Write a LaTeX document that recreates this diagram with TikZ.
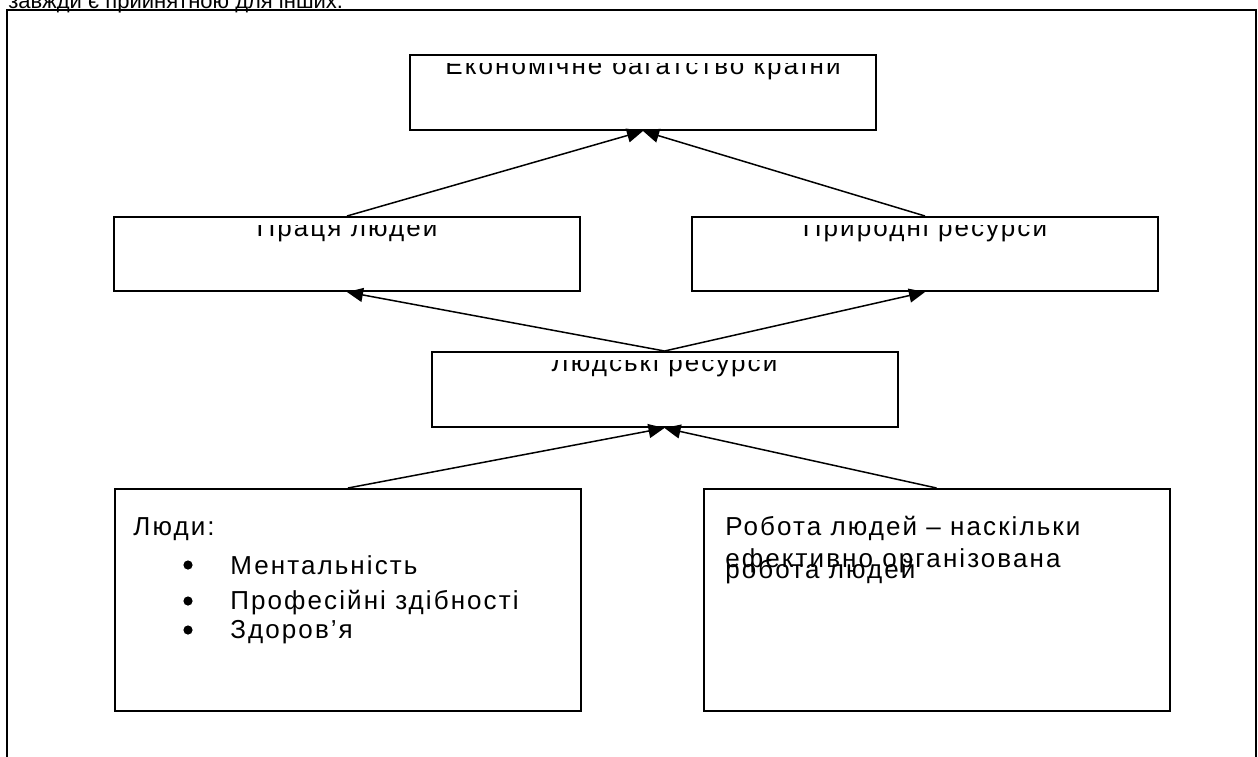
\documentclass[tikz,border=0pt]{standalone}
\usepackage{fontspec}
\setmainfont{Liberation Sans}
\newfontfamily\boxfont[LetterSpace=8]{Liberation Sans}
\usetikzlibrary{arrows.meta}

\begin{document}
\begin{tikzpicture}[x=0.5pt, y=-0.5pt,
    font=\boxfont\fontsize{13}{15}\selectfont,
    box/.style={draw, line width=1pt, inner sep=0pt, minimum width=233pt},
    link/.style={line width=0.75pt, -{Triangle[length=8pt, width=7pt]}},
    txt/.style={anchor=base, inner sep=0pt},
    item/.style={anchor=base west, inner sep=0pt},
    dot/.style={circle, fill, inner sep=0pt, minimum size=4.6pt}]
    \useasboundingbox (0,0) rectangle (1258,756);
    \draw[line width=0.75pt] (7,10) rectangle (1256,790);
    \node[item, font=\rmfamily\fontsize{11}{13}\selectfont] (intro) at (8,8) {завжди є прийнятною для інших.};

    \node[box, minimum height=37.5pt] (econ) at (643,92.5) {};
    \node[box, minimum height=37pt] (labour) at (347,254) {};
    \node[box, minimum height=37pt] (nature) at (925,254) {};
    \node[box, minimum height=37.5pt] (human) at (664.5,389.5) {};
    \node[box, minimum height=111pt] (people) at (348,600) {};
    \node[box, minimum height=111pt] (work) at (936.5,600) {};

    \foreach \n/\t in {econ/Економічне багатство країни, labour/Праця людей,
        nature/Природні ресурси, human/Людські ресурси} {
        \begin{scope}
            \clip ([yshift=-4.5pt]\n.north west) rectangle (\n.south east);
            \node[txt] (\n-txt) at ([yshift=-10pt]\n.north) {\t};
        \end{scope}
    }

    \node[item] (people-head) at (133,535) {Люди:};
    \node[dot] (bul1) at (188,565) {};
    \node[dot] (bul2) at (188,601) {};
    \node[dot] (bul3) at (188,630) {};
    \node[item] (item1) at (230,574) {Ментальність};
    \node[item] (item2) at (230,609) {Професійні здібності};
    \node[item] (item3) at (230,638) {Здоров’я};

    \node[item] (work1) at (725,535) {Робота людей – наскільки};
    \node[item] (work2) at (725,567) {ефективно організована};
    \node[item] (work3) at (725,578) {робота людей};

    \draw[link] (labour.north) -- (econ.south);
    \draw[link] (nature.north) -- (econ.south);
    \draw[link] (human.north) -- (labour.south);
    \draw[link] (human.north) -- (nature.south);
    \draw[link] (people.north) -- (human.south);
    \draw[link] (work.north) -- (human.south);
\end{tikzpicture}
\end{document}
